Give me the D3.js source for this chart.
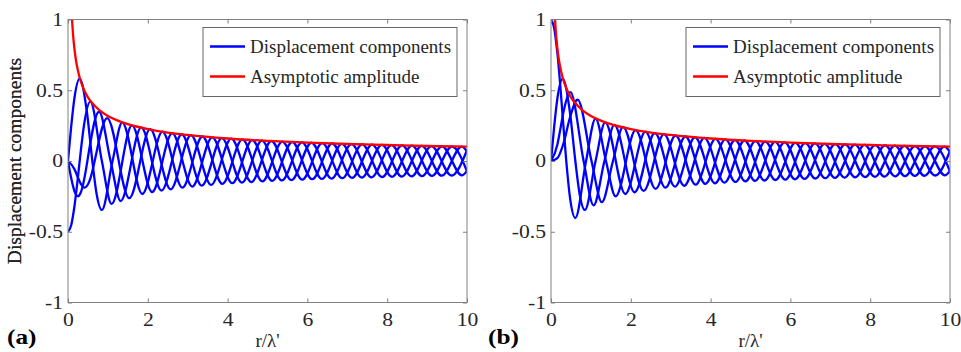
<!DOCTYPE html>
<html>
<head>
<meta charset="utf-8">
<script src="https://cdn.jsdelivr.net/npm/d3@7"></script>
<style>
  body { margin: 0; background: #fff; }
  svg { display: block; }
  text { font-family: "Liberation Serif", "Times New Roman", serif; }
</style>
</head>
<body>
<svg id="chart" width="961" height="352"></svg>
<script>
const rTicks = [0, 2, 4, 6, 8, 10];
const yTicks = [-1, -0.5, 0, 0.5, 1];
const legendLabels = ['Displacement components', 'Asymptotic amplitude'];
const panelLabels = ['(a)', '(b)'];

// red line
const ampR = [0.1, 0.11, 0.12, 0.13, 0.15, 0.17, 0.2, 0.25, 0.3, 0.4, 0.5, 0.6, 0.8, 1, 1.25, 1.5, 2, 2.5, 3, 4, 5, 6, 7, 8, 9, 10];
const ampV = [1.007, 0.960, 0.919, 0.883, 0.822, 0.772, 0.712, 0.637, 0.581, 0.503, 0.450, 0.411, 0.356, 0.318, 0.285, 0.260, 0.225, 0.201, 0.184, 0.159, 0.142, 0.130, 0.120, 0.113, 0.106, 0.101];

// blue curves: start values, turning points and a few crossings, [r, value]
const curve1 = [[0, 0], [0.0796, 0.2423], [0.159, 0.4401], [0.293, 0.5819], [0.477, 0.3391], [0.6098, 0], [0.716, -0.2311], [0.8485, -0.3461],
  [1.1166, 0], [1.3586, 0.2733], [1.8631, -0.2333], [2.3656, 0.2070], [2.8673, -0.1880], [3.3684, 0.1733], [3.8692, -0.1617],
  [4.3700, 0.1522], [4.8705, -0.1442], [5.3709, 0.1373], [5.8712, -0.1313], [6.3715, 0.1261], [6.8718, -0.1214], [7.3720, 0.1172],
  [7.8722, -0.1134], [8.3724, 0.1100], [8.8725, -0.1068], [9.3727, 0.1040], [9.8729, -0.1013], [10, -0.0705]];

const curveA2 = [[0, -0.5], [0.0796, -0.454], [0.159, -0.3252], [0.2387, -0.1399], [0.318, 0.0645], [0.398, 0.2473], [0.560, 0.4194],
  [0.8488, 0], [1.0928, -0.3034], [1.6036, 0.2514], [2.1086, -0.2192], [2.6117, 0.1970], [3.1139, -0.1804], [3.6154, 0.1674],
  [4.1166, -0.1569], [4.6175, 0.1481], [5.1182, -0.1407], [5.6188, 0.1343], [6.1193, -0.1287], [6.6198, 0.1237], [7.1202, -0.1193],
  [7.6205, 0.1153], [8.1208, -0.1117], [8.6210, 0.1084], [9.1213, -0.1054], [9.6215, 0.1026], [10, -0.0728]];

const curveA3 = [[0, 0], [0.0796, -0.1199], [0.159, -0.2103], [0.248, -0.2488], [0.318, -0.2239], [0.477, -0.015], [0.4854, 0],
  [0.778, 0.3479], [1.068, 0], [1.3199, -0.283], [1.8354, 0.237], [2.3440, -0.209], [2.8495, 0.189], [3.3533, -0.174], [3.8561, 0.162],
  [4.3583, -0.1525], [4.8600, 0.1444], [5.3614, -0.1375], [5.8626, 0.1315], [6.3636, -0.1262], [6.8644, 0.1215], [7.3652, -0.1173],
  [7.8658, 0.1135], [8.3663, -0.1100], [8.8668, 0.1069], [9.3673, -0.1040], [9.8677, 0.1013], [10, 0.068]];

const curveA4 = [[0, 0], [0.159, -0.0562], [0.2387, -0.1102], [0.318, -0.1594], [0.4197, -0.1879], [0.557, -0.1271], [0.6366, -0.0415],
  [0.668, 0], [0.9813, 0.3033], [1.5358, -0.263], [2.0588, 0.225], [2.5721, -0.200], [3.0808, 0.183], [3.5871, -0.169], [4.0918, 0.158],
  [4.5954, -0.1489], [5.0983, 0.1413], [5.6008, -0.1347], [6.1028, 0.1290], [6.6044, -0.1240], [7.1059, 0.1195], [7.6072, -0.1154],
  [8.1084, 0.1118], [8.6092, -0.1085], [9.1101, 0.1055], [9.6108, -0.1027], [10, 0.077]];

const curveB0 = [[0, 1], [0.0796, 0.9385], [0.159, 0.7652], [0.318, 0.2239], [0.3827, 0], [0.477, -0.2601], [0.6098, -0.4028],
  [0.8786, 0], [1.1166, 0.3001], [1.3773, 0], [1.6192, -0.2497], [2.1205, 0.2184], [2.6214, -0.1965], [3.1220, 0.1801], [3.6224, -0.1672],
  [4.1227, 0.1567], [4.6229, -0.1480], [5.1231, 0.1406], [5.6233, -0.1342], [6.1235, 0.1286], [6.6236, -0.1237], [7.1237, 0.1192],
  [7.6238, -0.1153], [8.1239, 0.1117], [8.6240, -0.1084], [9.1240, 0.1054], [9.6241, -0.1026], [10, 0.071]];

const curveB2 = [[0, 0], [0.159, 0.1149], [0.2387, 0.2321], [0.318, 0.3528], [0.4861, 0.4865], [0.8174, 0], [1.0673, -0.3135],
  [1.3396, 0], [1.5867, 0.2547], [2.0962, -0.2209], [2.6018, 0.1979], [3.1056, -0.1810], [3.6083, 0.1678], [4.1104, -0.1572],
  [4.6120, 0.1484], [5.1133, -0.1409], [5.6143, 0.1345], [6.1152, -0.1288], [6.6159, 0.1239], [7.1165, -0.1194], [7.6171, 0.1154],
  [8.1176, -0.1118], [8.6180, 0.1085], [9.1184, -0.1055], [9.6188, 0.1027], [10, -0.074]];

const curveB3 = [[0, 0], [0.159, 0.0196], [0.318, 0.1289], [0.477, 0.3091], [0.6686, 0.4344], [1.0154, 0], [1.2757, -0.2911],
  [1.5535, 0], [1.8058, 0.2407], [2.3214, -0.2110], [2.8312, 0.1904], [3.3379, -0.1750], [3.8428, 0.1628], [4.3465, -0.1530],
  [4.8496, 0.1448], [5.3519, -0.1378], [5.8538, 0.1318], [6.3553, -0.1264], [6.8566, 0.1217], [7.3576, -0.1175], [7.8585, 0.1137],
  [8.3591, -0.1102], [8.8597, 0.1071], [9.3601, -0.1042], [9.8604, 0.1015], [10, 0.0645]];

const width = 399, height = 283, marginTop = 19.5;
const panels = [
  {left: 68, label: panelLabels[0], curves: [curve1, curveA2, curveA3, curveA4]},
  {left: 551, label: panelLabels[1], curves: [curveB0, curve1, curveB2, curveB3]}
];
const axisGrey = '#808080', textColor = '#262626';
const serif = '"Liberation Serif", "Times New Roman", serif';

const x = d3.scaleLinear().domain([0, 10]).range([0, width]);
const y = d3.scaleLinear().domain([-1, 1]).range([height, 0]);
const line = d3.line().x(d => x(d[0])).y(d => y(d[1])).curve(d3.curveMonotoneX);
const amp = ampR.map((r, i) => [r, ampV[i]]);

const svg = d3.select('#chart');

// tick labels look wider than the font, stretch them a bit
function widen(sel, k) {
  sel.each(function () {
    const w = this.getComputedTextLength();
    d3.select(this).attr('textLength', w * k).attr('lengthAdjust', 'spacingAndGlyphs');
  });
}

panels.forEach((p, pi) => {
  const g = svg.append('g').attr('transform', 'translate(' + p.left + ',' + marginTop + ')');

  g.append('clipPath').attr('id', 'clip' + pi)
    .append('rect').attr('width', width).attr('height', height);

  const plot = g.append('g').attr('clip-path', 'url(#clip' + pi + ')');
  plot.selectAll('path.disp')
    .data(p.curves)
    .enter().append('path')
    .attr('class', 'disp')
    .attr('d', d => line(d))
    .attr('fill', 'none')
    .attr('stroke', '#0000ff')
    .attr('stroke-width', 2.3);
  plot.append('path')
    .attr('d', line(amp))
    .attr('fill', 'none')
    .attr('stroke', '#ff0000')
    .attr('stroke-width', 2.3);

  const xb = g.append('g').attr('transform', 'translate(0,' + height + ')')
    .call(d3.axisBottom(x).tickValues(rTicks).tickSizeInner(-4).tickSizeOuter(0).tickPadding(11).tickFormat(d => String(d)));
  const yl = g.append('g')
    .call(d3.axisLeft(y).tickValues(yTicks).tickSizeInner(-4).tickSizeOuter(0).tickPadding(5).tickFormat(d => String(d)));
  const xt = g.append('g')
    .call(d3.axisTop(x).tickValues(rTicks).tickSizeInner(-4).tickSizeOuter(0).tickFormat(''));
  const yr = g.append('g').attr('transform', 'translate(' + width + ',0)')
    .call(d3.axisRight(y).tickValues(yTicks).tickSizeInner(-4).tickSizeOuter(0).tickFormat(''));

  [xb, yl, xt, yr].forEach(a => {
    a.attr('font-family', null);
    a.select('.domain').remove();
    a.selectAll('.tick line').attr('stroke', axisGrey);
    a.selectAll('.tick text').attr('fill', textColor)
      .style('font-family', serif).style('font-size', '18px');
  });
  widen(xb.selectAll('.tick text'), 1.2);
  widen(yl.selectAll('.tick text'), 1.2);

  g.append('rect')
    .attr('width', width).attr('height', height)
    .attr('fill', 'none').attr('stroke', axisGrey).attr('stroke-width', 1);

  // legend
  const lg = g.append('g').attr('transform', 'translate(135,8)');
  lg.append('rect').attr('width', 254).attr('height', 69)
    .attr('fill', '#fff').attr('stroke', '#666').attr('stroke-width', 1);
  const colors = ['#0000ff', '#ff0000'];
  legendLabels.forEach((t, i) => {
    lg.append('line').attr('x1', 7).attr('x2', 42).attr('y1', 19 + i * 30).attr('y2', 19 + i * 30)
      .attr('stroke', colors[i]).attr('stroke-width', 2.3);
    lg.append('text').attr('x', 47).attr('y', 25.5 + i * 30)
      .attr('fill', textColor).style('font-size', '19px').text(t);
  });

  g.append('text')
    .attr('transform', 'translate(' + (21 - p.left) + ',' + (height / 2) + ') rotate(-90)')
    .attr('text-anchor', 'middle').attr('fill', textColor).style('font-size', '19.5px')
    .text('Displacement components');
  g.append('text')
    .attr('x', width / 2).attr('y', 347 - marginTop)
    .attr('text-anchor', 'middle').attr('fill', textColor).style('font-size', '19px')
    .text("r/\u03bb'");
  const lab = g.append('text')
    .attr('x', (pi === 0 ? 7 : 488) - p.left).attr('y', 344 - marginTop)
    .attr('fill', '#000').style('font-size', '22px').style('font-weight', 'bold')
    .text(p.label);
  widen(lab, 1.15);
});
</script>
</body>
</html>
